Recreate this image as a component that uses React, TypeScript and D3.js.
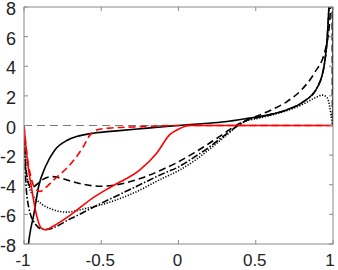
import React, { useEffect, useRef } from 'react';
import * as d3 from 'd3';

type Pt = [number, number];

// x ticks and y ticks
const xTicks = [-1, -0.5, 0, 0.5, 1];
const yTicks = [-8, -6, -4, -2, 0, 2, 4, 6, 8];

// black solid
const blackSolid: Pt[] = [
  [-0.98, -10], [-0.972, -8.2], [-0.96, -7.2], [-0.94, -6.2], [-0.905, -4.1], [-0.86, -2.75],
  [-0.8, -1.65], [-0.72, -1.0], [-0.66, -0.75], [-0.55, -0.52], [-0.4, -0.36], [-0.2, -0.18],
  [0, 0], [0.15, 0.12], [0.3, 0.25], [0.46, 0.5], [0.6, 0.75], [0.7, 1.05], [0.8, 1.55],
  [0.9, 2.6], [0.945, 4.2], [0.965, 6.3], [0.975, 8.5], [0.98, 10.5], [0.9985, 10.5], [1, 0],
];

// black dashed
const blackDashed: Pt[] = [
  [-1, 0], [-0.99, -2.5], [-0.975, -3.8], [-0.95, -4.2], [-0.92, -4.0], [-0.88, -3.65],
  [-0.82, -3.45], [-0.76, -3.55], [-0.7, -3.75], [-0.6, -4.0], [-0.5, -4.1], [-0.4, -4.0],
  [-0.3, -3.75], [-0.2, -3.4], [-0.1, -2.95], [0, -2.45], [0.1, -1.85], [0.2, -1.2],
  [0.3, -0.5], [0.4, 0.18], [0.5, 0.6], [0.6, 1.05], [0.7, 1.6], [0.8, 2.45], [0.88, 3.55],
  [0.95, 5.1], [0.98, 7.2], [0.99, 9.5], [0.994, 10], [0.997, 0], [1, 0],
];

// black dotted
const blackDotted: Pt[] = [
  [-1, 0], [-0.995, -1.5], [-0.985, -3.0], [-0.97, -4.0], [-0.95, -4.6], [-0.92, -5.0],
  [-0.88, -5.35], [-0.82, -5.65], [-0.76, -5.82], [-0.72, -5.85], [-0.66, -5.75], [-0.6, -5.6],
  [-0.5, -5.35], [-0.3, -4.6], [-0.1, -3.55], [0, -3.05], [0.1, -2.4], [0.2, -1.6],
  [0.3, -0.75], [0.4, 0.1], [0.45, 0.35], [0.5, 0.45], [0.6, 0.7], [0.7, 1.0], [0.8, 1.4],
  [0.88, 1.85], [0.93, 2.05], [0.96, 1.9], [0.98, 1.2], [0.99, 0.5], [1, 0],
];

// black dash-dot
const blackDashDot: Pt[] = [
  [-1, 0], [-0.99, -3.5], [-0.97, -5.5], [-0.93, -6.6], [-0.88, -7.0], [-0.85, -7.0],
  [-0.7, -6.3], [-0.5, -5.25], [-0.3, -4.25], [-0.1, -3.25], [0, -2.8], [0.1, -2.15],
  [0.2, -1.45], [0.3, -0.65], [0.4, 0.1], [0.45, 0.38], [0.5, 0.5], [0.6, 0.75],
  [0.7, 1.05], [0.8, 1.55], [0.9, 2.6], [0.945, 4.2], [0.965, 6.3], [0.975, 8.5], [0.98, 10.5],
];

// red solid
const redSolid: Pt[] = [
  [-1, 0], [-0.98, -2.2], [-0.95, -4.3], [-0.92, -6.0], [-0.89, -6.9], [-0.86, -7.05],
  [-0.82, -6.85], [-0.7, -6.05], [-0.57, -5.0], [-0.43, -4.1], [-0.25, -3.0], [-0.14, -1.85],
  [-0.055, -0.6], [0, -0.25], [0.07, 0], [0.3, 0], [0.6, 0], [1, 0],
];

// red dashed
const redDashed: Pt[] = [
  [-1, 0], [-0.98, -2.0], [-0.95, -3.7], [-0.92, -4.35], [-0.895, -4.45], [-0.86, -4.2],
  [-0.8, -3.6], [-0.72, -2.85], [-0.62, -1.5], [-0.57, -0.6], [-0.53, -0.3], [-0.45, -0.18],
  [-0.3, -0.1], [-0.15, -0.04], [0, 0], [0.5, 0], [1, 0],
];

const App: React.FC = () => {
  const svgRef = useRef<SVGSVGElement>(null);

  useEffect(() => {
    if (!svgRef.current) return;
    const svg = d3.select(svgRef.current);
    svg.selectAll('*').remove();

    const left = 24, right = 333, top = 7, bottom = 244;
    const x = d3.scaleLinear().domain([-1, 1]).range([left, right]);
    const y = d3.scaleLinear().domain([-8, 8]).range([bottom, top]);

    svg.append('defs').append('clipPath').attr('id', 'plot')
      .append('rect')
      .attr('x', left).attr('y', top)
      .attr('width', right - left).attr('height', bottom - top);

    const g = svg.append('g').attr('clip-path', 'url(#plot)');

    // zero line
    g.append('line')
      .attr('x1', left).attr('x2', right)
      .attr('y1', y(0)).attr('y2', y(0))
      .attr('stroke', '#555')
      .attr('stroke-width', 0.8)
      .attr('stroke-dasharray', '8,5');

    const line = d3.line<Pt>()
      .x(d => x(d[0]))
      .y(d => y(d[1]))
      .curve(d3.curveMonotoneX);

    const series: { data: Pt[]; color: string; dash: string | null }[] = [
      { data: blackDashDot, color: '#000', dash: '7,2,1.5,2' },
      { data: blackDotted, color: '#000', dash: '1.2,1.6' },
      { data: blackDashed, color: '#000', dash: '7,4' },
      { data: blackSolid, color: '#000', dash: null },
      { data: redDashed, color: '#ff0000', dash: '7,4' },
      { data: redSolid, color: '#ff0000', dash: null },
    ];

    series.forEach(s => {
      const p = g.append('path')
        .attr('d', line(s.data))
        .attr('fill', 'none')
        .attr('stroke', s.color)
        .attr('stroke-width', 1.6);
      if (s.dash) p.attr('stroke-dasharray', s.dash);
    });

    // frame
    svg.append('rect')
      .attr('x', left).attr('y', top)
      .attr('width', right - left).attr('height', bottom - top)
      .attr('fill', 'none')
      .attr('stroke', '#8a8a8a')
      .attr('stroke-width', 1);

    const tk = 4;
    xTicks.forEach(t => {
      svg.append('line')
        .attr('x1', x(t)).attr('x2', x(t))
        .attr('y1', bottom).attr('y2', bottom - tk)
        .attr('stroke', '#8a8a8a');
      svg.append('line')
        .attr('x1', x(t)).attr('x2', x(t))
        .attr('y1', top).attr('y2', top + tk)
        .attr('stroke', '#8a8a8a');
      svg.append('text')
        .attr('x', t === 1 ? x(t) - 3 : x(t) - 1)
        .attr('y', 266)
        .attr('text-anchor', 'middle')
        .attr('font-family', 'Liberation Sans, Arial, sans-serif')
        .attr('font-size', 17)
        .attr('fill', '#222')
        .text(String(t));
    });

    yTicks.forEach(t => {
      svg.append('line')
        .attr('x1', left).attr('x2', left + tk)
        .attr('y1', y(t)).attr('y2', y(t))
        .attr('stroke', '#8a8a8a');
      svg.append('line')
        .attr('x1', right).attr('x2', right - tk)
        .attr('y1', y(t)).attr('y2', y(t))
        .attr('stroke', '#8a8a8a');
      svg.append('text')
        .attr('x', 16)
        .attr('y', Math.max(y(t) + 8, 14))
        .attr('text-anchor', 'end')
        .attr('font-family', 'Liberation Sans, Arial, sans-serif')
        .attr('font-size', 18)
        .attr('fill', '#222')
        .text(String(t));
    });
  }, []);

  return (
    <svg
      ref={svgRef}
      width={338}
      height={270}
      style={{ position: 'absolute', left: 0, top: 0, background: '#fff' }}
    />
  );
};

export default App;
